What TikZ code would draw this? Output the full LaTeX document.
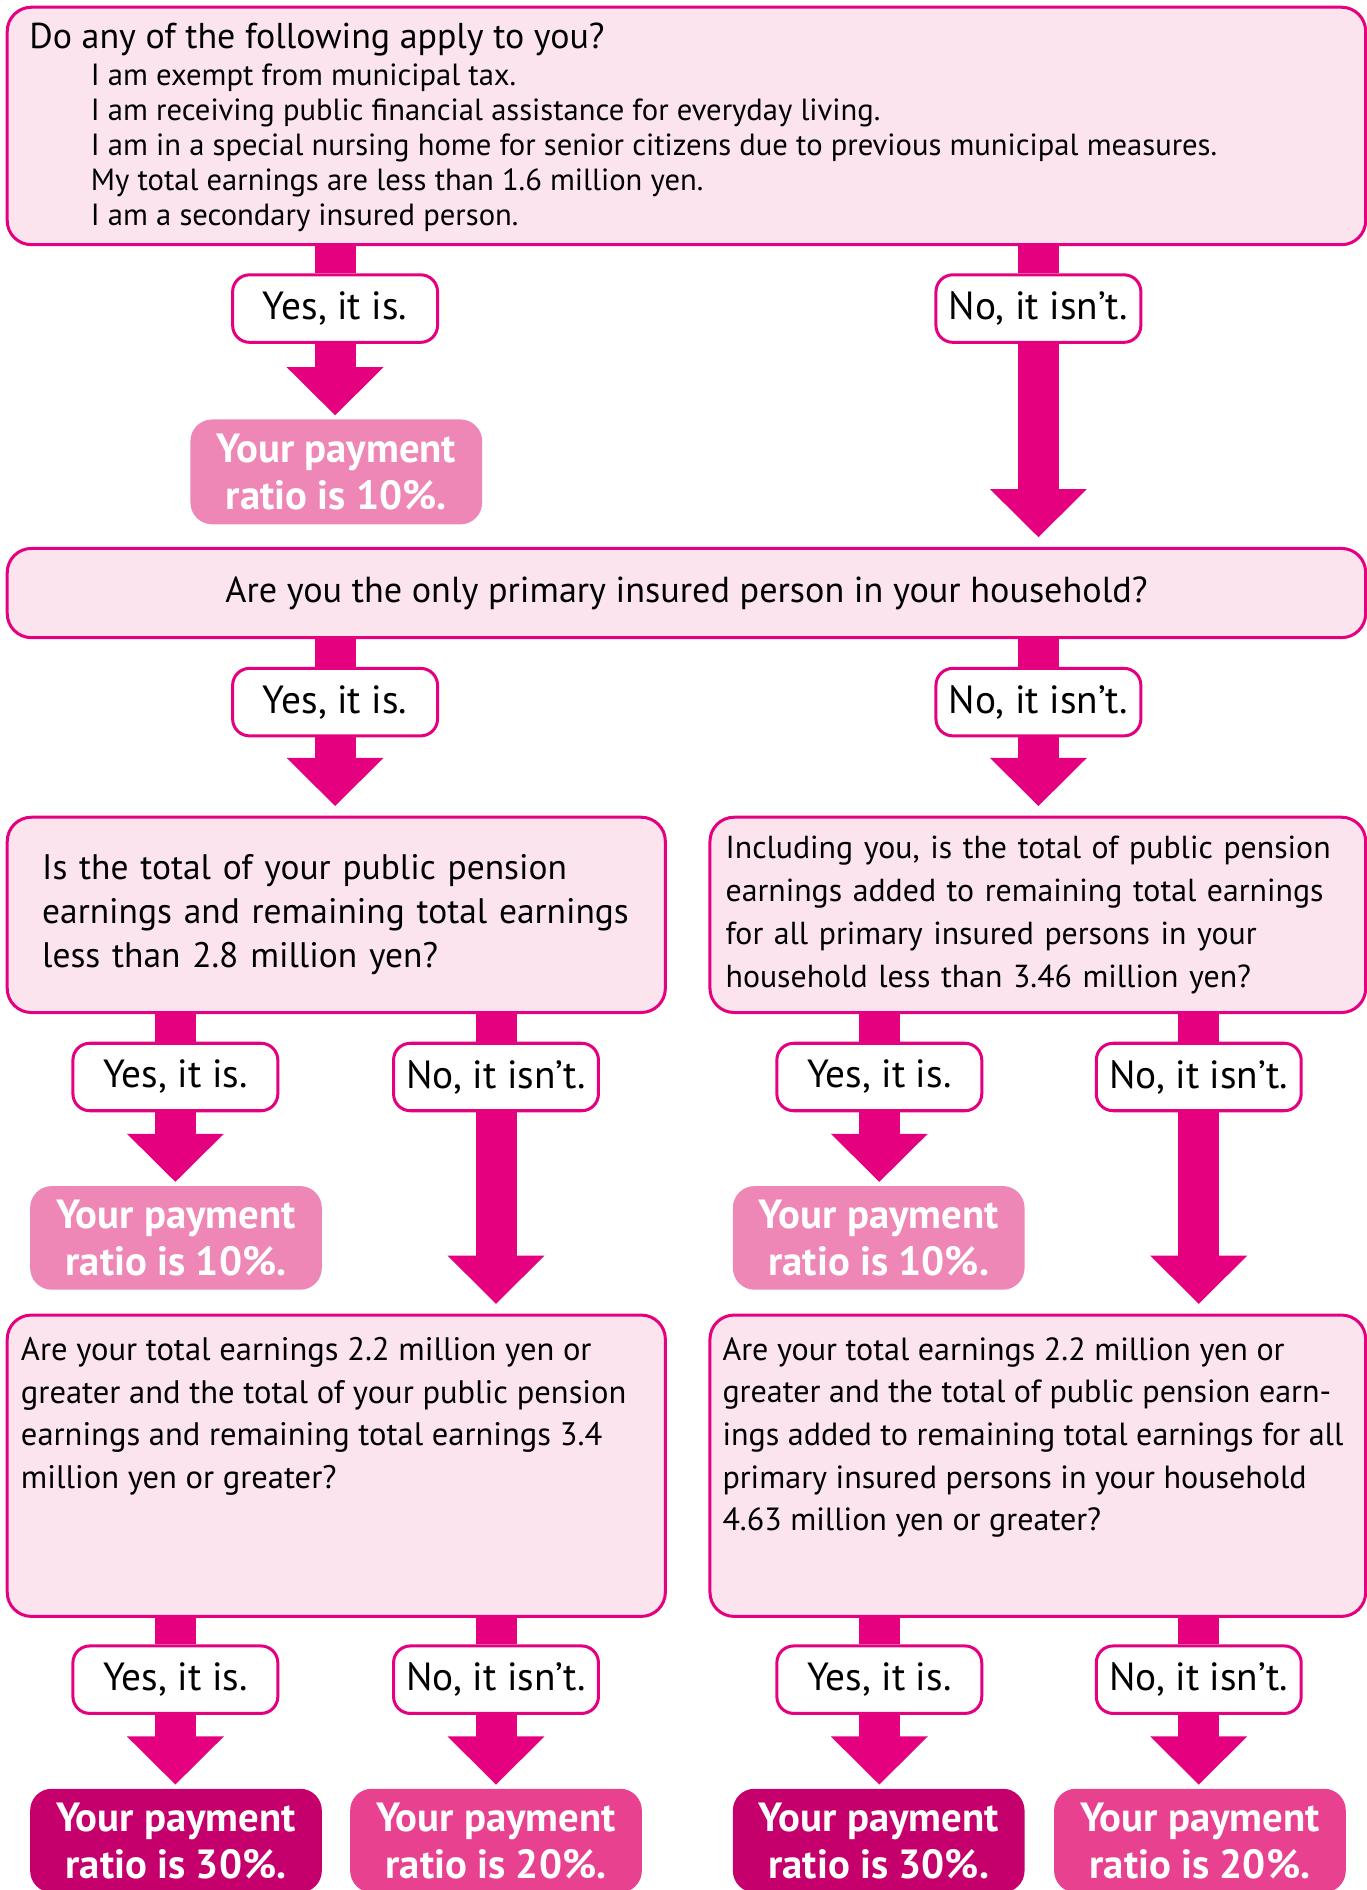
\documentclass[tikz,border=0pt]{standalone}
\usepackage{fontspec}
\setmainfont{PT Sans}
\usetikzlibrary{arrows.meta}
\usetikzlibrary{backgrounds}

\definecolor{mag}{HTML}{E4007F}
\definecolor{qpink}{HTML}{FBE4EE}
\definecolor{ratiolight}{HTML}{EE87B5}
\definecolor{ratiomid}{HTML}{E8418F}
\definecolor{ratiodark}{HTML}{C5006D}

\tikzset{
  qbox/.style={draw=mag,fill=qpink,line width=1.25pt,rounded corners=10pt,inner sep=0pt},
  qtext/.style={inner sep=0pt,align=left,anchor=north west},
  answer/.style={draw=mag,fill=white,line width=1.25pt,rounded corners=7pt,minimum width=85pt,minimum height=28pt,inner sep=0pt,font=\fontsize{16.3}{18}\selectfont},
  ratio/.style={rounded corners=9pt,minimum width=121pt,minimum height=43pt,inner sep=0pt,align=center,text=white,font=\bfseries\fontsize{16.9}{19.5}\selectfont},
  stem/.style={draw=mag,line width=17pt},
  flow/.style={stem,-{Triangle[width=39pt,length=20pt]},shorten >=1.5pt}
}

\begin{document}
\begin{tikzpicture}[x=0.5pt,y=-0.5pt]
\useasboundingbox (0,0) rectangle (1134,1568);

% first question
\node[qbox,minimum width=563.5pt,minimum height=98.5pt] (q1) at (569.5,104.5) {};
\node[anchor=base west,inner sep=0pt,font=\fontsize{14.9}{16}\selectfont] (q1t) at (24,40) {Do any of the following apply to you?};
\foreach \txt [count=\n] in {I am exempt from municipal tax.,
  I am receiving public financial assistance for everyday living.,
  I am in a special nursing home for senior citizens due to previous municipal measures.,
  My total earnings are less than 1.6 million yen.,
  I am a secondary insured person.}
  \node[anchor=base west,inner sep=0pt,font=\fontsize{12.7}{14}\selectfont] (q1l\n) at (75,42+29*\n) {\txt};

\node[answer] (yes1) at (278,256) {Yes, it is.};
\node[answer] (no1) at (861.5,256) {No, it isn’t.};
\node[ratio,fill=ratiolight,minimum height=43.5pt] (res1) at (279,391.5) {Your payment\\ratio is 10\%.};

% second question
\node[qbox,minimum width=563.5pt,minimum height=37pt,font=\fontsize{15}{17}\selectfont] (q2) at (569.5,492) {Are you the only primary insured person in your household?};
\node[answer] (yes2) at (278,582.5) {Yes, it is.};
\node[answer] (no2) at (861.5,582.5) {No, it isn’t.};

% third row
\node[qbox,minimum width=273pt,minimum height=81pt,text width=244pt,inner xsep=14.5pt,align=left,
  font=\fontsize{14.7}{18.25}\selectfont] (q3l) at (279,759)
  {Is the total of your public pension\\earnings and remaining total earnings\\less than 2.8 million yen?};
\node[qbox,minimum width=272pt,minimum height=81pt,text width=259pt,inner xsep=6.5pt,align=left,
  font=\fontsize{13.2}{17.75}\selectfont] (q3r) at (861,759)
  {Including you, is the total of public pension\\earnings added to remaining total earnings\\for all primary insured persons in your\\household less than 3.46 million yen?};

\node[answer] (yes3l) at (145.5,893.5) {Yes, it is.};
\node[answer] (no3l) at (411.5,893.5) {No, it isn’t.};
\node[answer] (yes3r) at (729.5,893.5) {Yes, it is.};
\node[answer] (no3r) at (994.5,893.5) {No, it isn’t.};
\node[ratio,fill=ratiolight] (res3l) at (146,1027) {Your payment\\ratio is 10\%.};
\node[ratio,fill=ratiolight] (res3r) at (729,1027) {Your payment\\ratio is 10\%.};

% fourth row
\node[qbox,minimum width=273pt,minimum height=125pt] (q4l) at (279,1216) {};
\node[qtext,font=\fontsize{13.5}{17.7}\selectfont] (q4lt) at (17,1109)
  {Are your total earnings 2.2 million yen or\\greater and the total of your public pension\\earnings and remaining total earnings 3.4\\million yen or greater?};
\node[qbox,minimum width=272pt,minimum height=125pt] (q4r) at (861,1216) {};
\node[qtext,font=\fontsize{13.3}{17.7}\selectfont] (q4rt) at (599,1109)
  {Are your total earnings 2.2 million yen or\\greater and the total of public pension earn-\\ings added to remaining total earnings for all\\primary insured persons in your household\\4.63 million yen or greater?};

\node[answer] (yes4l) at (145.5,1393.5) {Yes, it is.};
\node[answer] (no4l) at (411.5,1393.5) {No, it isn’t.};
\node[answer] (yes4r) at (729.5,1393.5) {Yes, it is.};
\node[answer] (no4r) at (994.5,1393.5) {No, it isn’t.};
\node[ratio,fill=ratiodark] (res4l) at (146,1527) {Your payment\\ratio is 30\%.};
\node[ratio,fill=ratiomid] (res4lb) at (411.5,1527) {Your payment\\ratio is 20\%.};
\node[ratio,fill=ratiodark] (res4r) at (729,1527) {Your payment\\ratio is 30\%.};
\node[ratio,fill=ratiomid] (res4rb) at (995.5,1527) {Your payment\\ratio is 20\%.};

% connectors
\begin{pgfonlayer}{background}
\foreach \a/\b in {q1/yes1,q1/no1,q2/yes2,q2/no2,q3l/yes3l,q3l/no3l,q3r/yes3r,q3r/no3r,
  q4l/yes4l,q4l/no4l,q4r/yes4r,q4r/no4r}
  \draw[stem] (\b |- \a.south) -- (\b.north);
\foreach \a/\b in {yes1/res1,yes3l/res3l,yes3r/res3r,yes4l/res4l,no4l/res4lb,yes4r/res4r,no4r/res4rb}
  \draw[flow] (\a.south) -- (\a |- \b.north);
\foreach \a/\b in {no1/q2,yes2/q3l,no2/q3r,no3l/q4l,no3r/q4r}
  \draw[flow,shorten >=4pt] (\a.south) -- (\a |- \b.north);
\end{pgfonlayer}
\end{tikzpicture}
\end{document}
